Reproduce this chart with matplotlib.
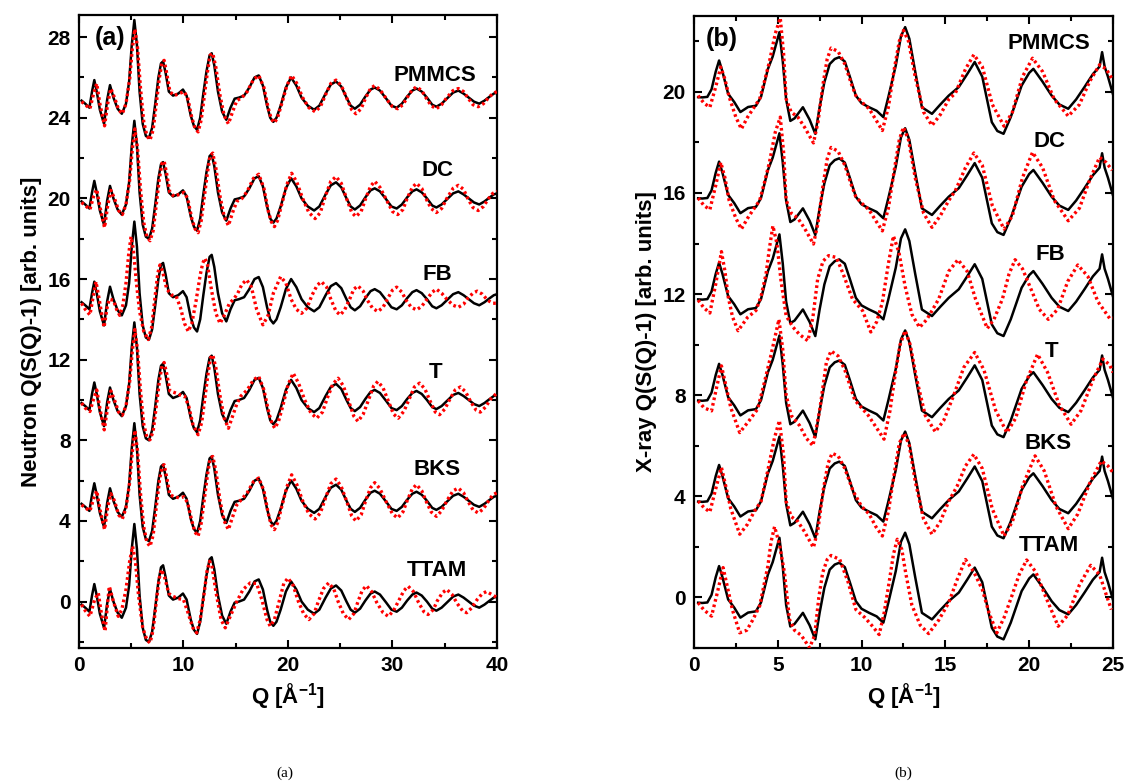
import matplotlib
matplotlib.use("Agg")
import matplotlib.pyplot as plt
from matplotlib.ticker import MultipleLocator

plt.rcParams['font.family'] = ['Liberation Sans', 'DejaVu Sans']
plt.rcParams['font.weight'] = 'bold'
plt.rcParams['mathtext.fontset'] = 'custom'
plt.rcParams['mathtext.rm'] = 'Liberation Sans:bold'
plt.rcParams['mathtext.bf'] = 'Liberation Sans:bold'

# --- DATA (curves before vertical offset) ---
models = ['PMMCS', 'DC', 'FB', 'T', 'BKS', 'TTAM']
neutron_offsets = [25, 20, 15, 10, 5, 0]
xray_offsets = [20, 16, 12, 8, 4, 0]

# neutron experiment (black, same in every row)
q_n_exp = [0.25, 0.6, 1.0, 1.25, 1.47, 1.7, 2.0, 2.4, 2.7, 2.97, 3.3, 3.7, 4.1, 4.5, 4.8, 5.05, 5.3, 5.55,
           5.8, 6.1, 6.4, 6.7, 7.0, 7.3, 7.6, 7.85, 8.05, 8.3, 8.6, 9.0, 9.5, 9.95, 10.3, 10.7, 11.0, 11.3,
           11.6, 11.9, 12.2, 12.5, 12.7, 12.95, 13.3, 13.7, 14.1, 14.5, 14.9, 15.3, 15.8, 16.3, 16.8, 17.2,
           17.6, 18.0, 18.3, 18.6, 18.9, 19.3, 19.8, 20.3, 20.8, 21.3, 21.9, 22.5, 23.0, 23.6, 24.1, 24.6,
           25.1, 25.6, 26.0, 26.4, 26.9, 27.4, 27.9, 28.3, 28.8, 29.4, 29.9, 30.4, 30.9, 31.4, 31.9, 32.3,
           32.8, 33.3, 33.8, 34.2, 34.7, 35.3, 35.8, 36.3, 36.8, 37.3, 37.8, 38.3, 38.8, 39.3, 39.7, 40.0]
n_exp = [-0.15, -0.3, -0.5, 0.3, 0.87, 0.3, -0.6, -1.3, -0.1, 0.62, 0.0, -0.55, -0.8, -0.3, 0.8, 2.6, 3.85, 2.6,
         0.3, -1.3, -1.9, -2.0, -1.5, -0.3, 1.0, 1.7, 1.8, 1.2, 0.3, 0.1, 0.2, 0.4, 0.1, -0.9, -1.4, -1.6,
         -1.0, 0.2, 1.3, 2.1, 2.2, 1.6, 0.3, -0.7, -1.1, -0.5, -0.05, 0.0, 0.1, 0.5, 1.0, 1.1,
         0.6, -0.4, -1.0, -1.2, -1.0, -0.4, 0.5, 1.0, 0.6, 0.0, -0.4, -0.6, -0.4, 0.2, 0.65, 0.8,
         0.55, 0.0, -0.4, -0.55, -0.35, 0.05, 0.4, 0.5, 0.35, -0.05, -0.4, -0.5, -0.3, 0.05, 0.35, 0.45,
         0.3, 0.0, -0.35, -0.45, -0.3, 0.0, 0.25, 0.35, 0.2, 0.0, -0.2, -0.3, -0.15, 0.05, 0.2, 0.25]

# neutron simulations (red dotted)
q_n_pmmcs = [0.25, 0.6, 1.05, 1.4, 1.7, 2.0, 2.45, 2.75, 3.05, 3.4, 3.8, 4.15, 4.5, 4.85, 5.1, 5.35, 5.6, 5.9,
             6.2, 6.5, 6.8, 7.1, 7.4, 7.7, 7.95, 8.15, 8.4, 8.7, 9.1, 9.6, 10.05, 10.4, 10.8, 11.1, 11.4, 11.7,
             12.0, 12.3, 12.55, 12.8, 13.1, 13.5, 13.9, 14.3, 14.7, 15.1, 15.6, 16.1, 16.7, 17.2, 17.7, 18.1,
             18.4, 18.7, 19.0, 19.4, 19.9, 20.35, 20.85, 21.4, 22.0, 22.6, 23.1, 23.6, 24.1, 24.6, 25.1, 25.6,
             26.1, 26.5, 27.0, 27.4, 27.9, 28.3, 28.8, 29.4, 30.0, 30.5, 31.0, 31.4, 31.9, 32.3, 32.8, 33.2,
             33.7, 34.2, 34.7, 35.2, 35.8, 36.3, 36.8, 37.2, 37.7, 38.2, 38.7, 39.2, 39.6, 40.0]
n_pmmcs = [-0.2, -0.35, -0.55, 0.2, 0.7, -0.3, -1.4, -0.3, 0.45, 0.0, -0.6, -0.8, -0.3, 0.9, 2.4, 3.4, 2.5, 0.4,
           -1.2, -1.9, -2.1, -1.6, -0.3, 1.0, 1.75, 1.85, 1.2, 0.3, 0.1, 0.2, 0.3, 0.0, -1.0, -1.5, -1.7, -1.1,
           0.1, 1.3, 2.1, 2.2, 1.5, 0.1, -0.9, -1.3, -0.7, -0.15, 0.0, 0.3, 0.9, 1.1, 0.5, -0.5,
           -1.05, -1.25, -1.0, -0.3, 0.6, 1.1, 0.7, 0.0, -0.5, -0.7, -0.45, 0.15, 0.7, 0.87, 0.6, 0.0,
           -0.6, -0.8, -0.55, -0.05, 0.45, 0.6, 0.4, -0.05, -0.45, -0.55, -0.35, 0.0, 0.4, 0.53, 0.35, 0.0,
           -0.4, -0.55, -0.35, 0.0, 0.35, 0.45, 0.3, 0.0, -0.35, -0.45, -0.3, 0.0, 0.2, 0.3]

q_n_dc = q_n_pmmcs
n_dc = [-0.2, -0.35, -0.55, 0.1, 0.45, -0.4, -1.45, -0.35, 0.4, 0.0, -0.6, -0.8, -0.3, 0.9, 2.4, 3.45, 2.5, 0.4,
        -1.2, -1.9, -2.1, -1.6, -0.3, 1.0, 1.75, 1.85, 1.2, 0.3, 0.1, 0.2, 0.3, 0.0, -1.0, -1.5, -1.7, -1.1,
        0.1, 1.3, 2.1, 2.25, 1.5, 0.1, -0.9, -1.35, -0.7, -0.15, 0.0, 0.35, 1.0, 1.2, 0.5, -0.6,
        -1.15, -1.4, -1.1, -0.3, 0.7, 1.25, 0.8, 0.0, -0.7, -1.0, -0.7, 0.15, 0.85, 1.08, 0.75, 0.0,
        -0.7, -0.9, -0.65, -0.05, 0.6, 0.85, 0.55, -0.05, -0.65, -0.8, -0.55, 0.0, 0.55, 0.75, 0.5, 0.0,
        -0.5, -0.7, -0.5, 0.0, 0.5, 0.65, 0.45, 0.0, -0.45, -0.6, -0.4, 0.0, 0.25, 0.35]

q_n_fb = [0.25, 0.6, 1.05, 1.35, 1.63, 1.9, 2.4, 2.7, 2.9, 3.3, 3.6, 3.9, 4.2, 4.5, 4.75, 4.98, 5.2, 5.5,
          5.8, 6.2, 6.63, 6.95, 7.3, 7.55, 7.75, 8.0, 8.4, 8.9, 9.3, 9.7, 10.1, 10.46, 10.8, 11.2, 11.6,
          11.85, 12.06, 12.3, 12.7, 13.1, 13.5, 13.9, 14.4, 14.8, 15.2, 15.6, 16.05, 16.5, 17.0, 17.6, 18.1,
          18.6, 19.3, 19.8, 20.3, 20.8, 21.3, 21.8, 22.3, 22.8, 23.2, 23.7, 24.1, 24.6, 25.0, 25.4, 25.9,
          26.3, 26.7, 27.2, 27.6, 28.1, 28.6, 29.1, 29.5, 30.0, 30.4, 30.9, 31.3, 31.8, 32.3, 32.8, 33.3,
          33.8, 34.2, 34.7, 35.2, 35.8, 36.3, 36.8, 37.2, 37.7, 38.1, 38.6, 39.1, 39.6, 40.0]
n_fb = [-0.2, -0.5, -0.78, 0.1, 0.87, 0.1, -1.4, -0.4, 0.0, -0.05, -0.5, -0.8, -0.3, 0.8, 2.2, 3.1, 2.5, 0.8,
        -0.6, -1.6, -2.0, -1.4, 0.2, 1.3, 1.7, 1.4, 0.5, 0.2, 0.15, -0.4, -1.2, -1.6, -1.2, -0.1, 1.2,
        1.8, 2.03, 1.7, 0.4, -0.7, -1.2, -0.8, -0.2, 0.0, 0.3, 0.75, 0.96, 0.6, -0.5, -1.27, -0.8,
        0.3, 1.12, 0.8, 0.0, -0.5, -0.7, -0.45, 0.2, 0.7, 0.87, 0.6, 0.0, -0.6, -0.78, -0.55, 0.0,
        0.5, 0.66, 0.4, -0.05, -0.45, -0.61, -0.4, 0.0, 0.45, 0.6, 0.35, -0.05, -0.4, -0.53, -0.35, 0.0,
        0.35, 0.5, 0.3, 0.0, -0.3, -0.4, -0.25, 0.05, 0.3, 0.4, 0.25, -0.05, -0.2, -0.2]

q_n_t = [0.25, 0.6, 1.05, 1.4, 1.7, 2.0, 2.42, 2.75, 3.05, 3.4, 3.8, 4.15, 4.5, 4.85, 5.1, 5.35, 5.6, 5.9,
         6.2, 6.5, 6.8, 7.1, 7.4, 7.7, 7.95, 8.15, 8.4, 8.7, 9.3, 9.7, 10.1, 10.5, 10.9, 11.4, 11.75, 12.05,
         12.35, 12.6, 12.8, 13.1, 13.5, 13.9, 14.3, 14.7, 15.1, 15.5, 16.1, 16.7, 17.2, 17.7, 18.2, 18.5,
         18.75, 19.1, 19.5, 20.0, 20.5, 21.0, 21.6, 22.2, 22.75, 23.3, 23.8, 24.3, 24.8, 25.3, 25.8, 26.3,
         26.7, 27.2, 27.7, 28.2, 28.6, 29.1, 29.6, 30.1, 30.55, 31.1, 31.6, 32.1, 32.6, 33.1, 33.6, 34.1,
         34.5, 35.0, 35.5, 36.0, 36.5, 37.0, 37.5, 38.0, 38.4, 38.9, 39.4, 40.0]
n_t = [-0.15, -0.4, -0.57, 0.05, 0.5, -0.4, -1.48, -0.35, 0.45, 0.0, -0.6, -0.75, -0.3, 0.9, 2.4, 3.5, 2.5, 0.4,
       -1.2, -1.85, -1.97, -1.55, -0.3, 0.95, 1.7, 1.86, 1.3, 0.45, 0.34, 0.25, 0.2, -0.3, -1.2, -1.72, -1.1, 0.1,
       1.3, 2.1, 2.24, 1.6, 0.2, -0.9, -1.4, -0.8, -0.2, 0.2, 0.5, 1.0, 1.17, 0.5, -0.7, -1.2,
       -1.4, -1.05, -0.3, 0.75, 1.33, 0.85, 0.0, -0.65, -0.9, -0.6, 0.15, 0.8, 1.08, 0.7, -0.05, -0.8,
       -1.06, -0.7, 0.0, 0.7, 0.92, 0.6, -0.05, -0.7, -0.9, -0.55, 0.05, 0.65, 0.84, 0.55, -0.05, -0.6,
       -0.73, -0.45, 0.05, 0.5, 0.65, 0.4, -0.1, -0.5, -0.6, -0.35, 0.05, 0.35]

q_n_bks = q_n_pmmcs
n_bks = [-0.2, -0.35, -0.5, 0.1, 0.5, -0.4, -1.43, -0.3, 0.35, 0.0, -0.7, -0.9, -0.35, 0.9, 2.4, 3.5, 2.5, 0.3,
         -1.3, -2.05, -2.26, -1.7, -0.3, 1.0, 1.7, 1.79, 1.15, 0.3, 0.2, 0.15, 0.2, -0.1, -1.0, -1.55, -1.76, -1.1,
         0.1, 1.3, 2.1, 2.2, 1.5, 0.0, -1.0, -1.43, -0.8, -0.2, 0.1, 0.4, 0.95, 1.13, 0.5, -0.6,
         -1.2, -1.43, -1.1, -0.3, 0.7, 1.29, 0.8, 0.0, -0.65, -0.9, -0.6, 0.15, 0.85, 1.08, 0.7, 0.0,
         -0.75, -1.0, -0.7, -0.05, 0.65, 0.9, 0.6, -0.05, -0.65, -0.85, -0.55, 0.0, 0.6, 0.8, 0.5, 0.0,
         -0.55, -0.77, -0.5, 0.0, 0.5, 0.63, 0.4, 0.0, -0.45, -0.6, -0.4, 0.0, 0.3, 0.4]

q_n_ttam = [0.25, 0.6, 1.05, 1.5, 1.85, 2.15, 2.5, 2.7, 2.9, 3.3, 3.76, 4.1, 4.5, 4.85, 5.13, 5.4, 5.7, 6.1,
            6.5, 6.8, 7.1, 7.4, 7.7, 7.9, 8.2, 8.6, 9.0, 9.5, 10.0, 10.4, 10.9, 11.26, 11.6, 11.95, 12.25,
            12.5, 12.75, 13.1, 13.6, 14.0, 14.5, 15.1, 15.7, 16.4, 17.0, 17.5, 18.0, 18.3, 18.7, 19.2, 19.6,
            20.0, 20.5, 21.0, 21.5, 22.0, 22.5, 22.9, 23.4, 23.9, 24.4, 24.8, 25.3, 25.8, 26.3, 26.7, 27.1,
            27.5, 28.0, 28.5, 29.1, 29.6, 30.1, 30.6, 31.1, 31.5, 32.0, 32.5, 33.0, 33.4, 33.9, 34.3, 34.8,
            35.2, 35.7, 36.2, 36.7, 37.1, 37.6, 38.1, 38.6, 39.0, 39.5, 40.0]
n_ttam = [-0.15, -0.45, -0.73, 0.1, 0.43, -0.6, -1.47, -0.3, 0.76, 0.0, -0.73, -0.4, 0.6, 2.0, 2.74, 2.0, 0.3, -1.3,
          -1.9, -2.05, -1.4, 0.0, 1.2, 1.59, 1.2, 0.4, 0.26, 0.15, 0.1, -0.5, -1.3, -1.55, -0.9, 0.3, 1.5,
          2.0, 1.7, 0.5, -0.9, -1.3, -0.7, 0.0, 0.6, 0.93, 0.9, 0.1, -0.9, -1.22, -0.9, 0.1, 0.9,
          1.17, 0.8, 0.0, -0.6, -0.89, -0.6, 0.0, 0.65, 0.93, 0.6, 0.0, -0.6, -0.89, -0.6, 0.0, 0.55,
          0.79, 0.5, -0.05, -0.55, -0.73, -0.45, 0.05, 0.55, 0.76, 0.5, -0.05, -0.5, -0.64, -0.4, 0.05, 0.45,
          0.6, 0.35, -0.1, -0.45, -0.55, -0.3, 0.1, 0.4, 0.5, 0.35, 0.2]

# x-ray experiment (black, same in every row)
q_x_exp = [0.25, 0.5, 0.8, 1.05, 1.3, 1.5, 1.7, 2.04, 2.4, 2.77, 3.0, 3.23, 3.7, 4.0, 4.41, 4.7, 4.95, 5.1,
           5.3, 5.5, 5.75, 6.0, 6.5, 6.9, 7.24, 7.5, 7.78, 8.1, 8.4, 8.67, 9.0, 9.3, 9.66, 10.0, 10.45, 10.9,
           11.3, 11.6, 12.04, 12.35, 12.6, 12.85, 13.2, 13.6, 14.2, 14.7, 15.2, 15.8, 16.3, 16.75, 17.2,
           17.77, 18.1, 18.47, 18.9, 19.55, 20.0, 20.25, 20.8, 21.34, 21.8, 22.33, 22.8, 23.3, 23.8, 24.2,
           24.35, 24.5, 24.7, 25.0]
x_exp = [-0.21, -0.22, -0.2, 0.1, 0.8, 1.24, 0.8, -0.08, -0.4, -0.8, -0.7, -0.6, -0.55, -0.2, 0.9, 1.4, 2.0, 2.36,
         1.2, -0.3, -1.15, -1.05, -0.61, -1.1, -1.66, -0.6, 0.38, 1.1, 1.3, 1.37, 1.2, 0.6, -0.15, -0.45, -0.61, -0.75,
         -1.0, -0.2, 1.04, 2.2, 2.56, 2.1, 0.8, -0.61, -0.87, -0.5, -0.15, 0.19, 0.7, 1.18, 0.6,
         -1.2, -1.55, -1.66, -1.0, 0.25, 0.75, 0.91, 0.4, -0.15, -0.5, -0.67, -0.3, 0.19, 0.7, 1.0,
         1.57, 1.0, 0.6, -0.1]

# x-ray simulations (red dotted)
q_x_pmmcs = [0.25, 0.6, 0.95, 1.3, 1.6, 1.85, 2.1, 2.5, 2.83, 3.2, 3.5, 3.92, 4.2, 4.5, 4.85, 5.15, 5.35, 5.5,
             5.8, 6.2, 6.6, 7.13, 7.4, 7.7, 7.95, 8.18, 8.6, 9.0, 9.4, 9.66, 10.0, 10.45, 10.85, 11.24, 11.6,
             11.95, 12.25, 12.5, 12.8, 13.2, 13.7, 14.2, 14.7, 15.2, 15.6, 16.2, 16.7, 17.2, 17.8, 18.5, 19.0,
             19.6, 20.2, 20.8, 21.5, 22.33, 23.0, 23.6, 24.2, 24.6, 24.95]
x_pmmcs = [-0.15, -0.45, -0.61, 0.2, 0.98, 0.5, -0.2, -1.0, -1.47, -1.0, -0.7, -0.28, 0.4, 1.18, 2.3, 2.92, 1.5, -0.28,
           -0.8, -1.0, -1.4, -2.02, -1.2, 0.3, 1.3, 1.73, 1.6, 1.1, 0.3, -0.15, -0.4, -0.67, -1.1, -1.53, -0.6,
           0.9, 2.0, 2.43, 2.0, 0.6, -0.8, -1.33, -0.9, -0.3, -0.05, 0.9, 1.47, 1.0, -0.5, -1.36, -0.8,
           0.6, 1.33, 0.8, -0.3, -0.96, -0.5, 0.4, 1.07, 0.9, 0.5]

q_x_dc = q_x_pmmcs
x_dc = [-0.2, -0.5, -0.66, 0.3, 1.21, 0.6, -0.3, -1.0, -1.43, -1.0, -0.7, -0.3, 0.4, 1.2, 2.4, 3.0, 1.6, -0.28,
        -0.8, -1.0, -1.4, -2.02, -1.2, 0.3, 1.35, 1.8, 1.65, 1.1, 0.3, -0.15, -0.4, -0.67, -1.1, -1.5, -0.6,
        0.9, 2.1, 2.6, 2.1, 0.6, -0.8, -1.36, -0.9, -0.3, 0.1, 1.0, 1.58, 1.1, -0.5, -1.43, -0.9,
        0.6, 1.61, 1.0, -0.3, -1.1, -0.6, 0.5, 1.41, 1.2, 0.9]

q_x_fb = [0.25, 0.6, 0.95, 1.3, 1.64, 1.85, 2.05, 2.3, 2.63, 2.9, 3.2, 3.7, 4.0, 4.3, 4.5, 4.71, 4.95, 5.2,
          5.5, 5.9, 6.3, 6.8, 7.1, 7.38, 7.7, 8.03, 8.5, 8.9, 9.46, 10.06, 10.55, 10.9, 11.24, 11.6, 11.9,
          12.23, 12.6, 13.0, 13.46, 13.9, 14.6, 15.2, 15.75, 16.3, 16.8, 17.5, 17.9, 18.4, 18.8, 19.16,
          19.6, 20.15, 20.6, 21.14, 21.7, 22.3, 22.9, 23.5, 24.1, 24.8, 25.0]
x_fb = [-0.24, -0.55, -0.75, 0.4, 1.68, 0.9, -0.13, -0.9, -1.45, -1.2, -0.92, -0.65, -0.1, 0.79, 1.8, 2.7, 2.0, 0.5,
        -0.86, -1.3, -1.6, -1.85, -0.9, 0.59, 1.3, 1.52, 1.45, 0.8, -0.2, -0.66, -1.5, -1.1, -0.33, 1.2, 2.3,
        1.65, 0.3, -0.8, -1.32, -1.0, -0.2, 0.9, 1.36, 0.9, -0.2, -1.36, -1.0, -0.2, 0.8, 1.36,
        1.0, 0.13, -0.6, -1.0, -0.6, 0.5, 1.15, 0.7, -0.3, -0.96, -0.95]

q_x_t = [0.25, 0.6, 1.05, 1.35, 1.64, 1.9, 2.2, 2.73, 3.3, 3.8, 4.2, 4.6, 5.07, 5.3, 5.5, 5.8, 6.3, 6.7,
         7.1, 7.5, 7.9, 8.18, 8.6, 9.0, 9.6, 10.4, 10.9, 11.34, 11.7, 12.0, 12.3, 12.6, 12.9, 13.3, 13.8,
         14.4, 14.9, 15.5, 16.1, 16.75, 17.3, 18.0, 18.67, 19.2, 19.8, 20.5, 21.1, 21.8, 22.5, 23.1, 23.8,
         24.4, 24.8, 25.0]
x_t = [-0.22, -0.5, -0.62, 0.3, 1.16, 0.4, -0.5, -1.48, -1.0, -0.55, 0.5, 1.6, 3.0, 1.8, 0.0, -0.8, -1.2, -1.7,
       -2.0, -0.6, 1.3, 1.75, 1.55, 1.0, -0.2, -0.8, -1.3, -1.74, -0.6, 0.8, 2.0, 2.55, 2.0, 0.6, -0.8,
       -1.45, -1.0, 0.0, 1.1, 1.69, 1.0, -0.6, -1.48, -0.9, 0.5, 1.62, 0.9, -0.4, -1.15, -0.6, 0.6,
       1.43, 1.2, 0.9]

q_x_bks = [0.25, 0.6, 0.95, 1.3, 1.64, 1.9, 2.2, 2.73, 3.2, 3.6, 4.0, 4.4, 4.8, 5.1, 5.35, 5.5, 5.8, 6.2,
           6.6, 7.13, 7.4, 7.7, 8.0, 8.24, 8.6, 9.0, 9.5, 10.0, 10.45, 10.85, 11.24, 11.6, 11.95, 12.25, 12.55,
           12.85, 13.2, 13.7, 14.2, 14.7, 15.2, 15.7, 16.2, 16.7, 17.2, 17.8, 18.5, 19.0, 19.6, 20.35, 20.9,
           21.6, 22.33, 22.9, 23.6, 24.3, 24.7, 25.0]
x_bks = [-0.19, -0.45, -0.62, 0.3, 1.14, 0.4, -0.5, -1.5, -1.1, -0.6, -0.2, 1.0, 2.3, 3.0, 1.6, -0.2, -0.8, -1.0,
         -1.4, -2.03, -1.3, 0.2, 1.3, 1.7, 1.6, 1.1, 0.2, -0.4, -0.7, -1.2, -1.57, -0.6, 0.9, 2.1, 2.5,
         2.0, 0.6, -0.9, -1.5, -1.0, -0.2, 0.4, 1.2, 1.66, 1.1, -0.5, -1.57, -1.0, 0.4, 1.6, 1.0,
         -0.4, -1.28, -0.7, 0.5, 1.4, 1.2, 0.94]

q_x_ttam = [0.25, 0.6, 1.05, 1.4, 1.74, 2.0, 2.3, 2.73, 3.15, 3.5, 3.92, 4.15, 4.41, 4.6, 4.81, 5.1, 5.4, 5.7,
            6.0, 6.4, 6.9, 7.2, 7.45, 7.68, 7.95, 8.18, 8.7, 9.2, 9.66, 10.2, 10.6, 11.05, 11.35, 11.64, 11.9,
            12.13, 12.4, 12.63, 13.0, 13.5, 14.0, 14.6, 15.2, 15.7, 16.2, 16.7, 17.2, 17.6, 18.07, 18.5,
            18.96, 19.4, 19.85, 20.4, 21.0, 21.73, 22.3, 23.0, 23.67, 24.2, 24.6, 24.9]
x_ttam = [-0.21, -0.5, -0.74, 0.2, 1.18, 0.4, -0.5, -1.4, -1.3, -0.9, -0.34, 0.4, 1.24, 2.2, 2.8, 2.1, 0.98, -0.87,
          -1.3, -1.5, -1.99, -1.5, 0.0, 0.98, 1.5, 1.66, 1.5, 0.6, -0.48, -0.8, -1.1, -1.47, -0.6, 0.58, 1.7,
          2.3, 1.9, 0.98, -0.3, -1.1, -1.43, -0.9, -0.21, 0.7, 1.5, 1.0, 0.32, -0.6, -1.4, -0.8,
          0.05, 0.9, 1.48, 1.0, 0.0, -1.14, -0.7, 0.5, 1.27, 0.9, 0.1, -0.48]

neutron_sim = [(q_n_pmmcs, n_pmmcs), (q_n_dc, n_dc), (q_n_fb, n_fb),
               (q_n_t, n_t), (q_n_bks, n_bks), (q_n_ttam, n_ttam)]
xray_sim = [(q_x_pmmcs, x_pmmcs), (q_x_dc, x_dc), (q_x_fb, x_fb),
            (q_x_t, x_t), (q_x_bks, x_bks), (q_x_ttam, x_ttam)]

# label positions (data coords) for each row
neutron_label_q = [34.1, 34.35, 34.3, 34.1, 34.3, 34.2]
neutron_label_y = [26.1, 21.4, 16.23, 11.35, 6.57, 1.56]
xray_label_q = [21.17, 21.23, 21.26, 21.35, 21.14, 21.2]
xray_label_y = [21.9, 18.04, 13.58, 9.72, 6.1, 2.04]


def style_axes(ax, xmaj, xmin, ymaj, ymin):
    ax.xaxis.set_major_locator(MultipleLocator(xmaj))
    ax.xaxis.set_minor_locator(MultipleLocator(xmin))
    ax.yaxis.set_major_locator(MultipleLocator(ymaj))
    ax.yaxis.set_minor_locator(MultipleLocator(ymin))
    ax.tick_params(which='both', direction='in', top=True, right=True, width=1.5,
                   labelsize=15, pad=6)
    ax.tick_params(which='major', length=6)
    ax.tick_params(which='minor', length=3.5)
    for s in ax.spines.values():
        s.set_linewidth(1.6)
    for lab in ax.get_xticklabels() + ax.get_yticklabels():
        lab.set_fontweight('bold')


fig = plt.figure(figsize=(11.28, 7.84), dpi=100)
ax1 = fig.add_axes([0.0700, 0.1735, 0.3706, 0.8074])
ax2 = fig.add_axes([0.6152, 0.1735, 0.3715, 0.8061])

# --- Panel (a): neutron ---
for off, (q, y), lq, ly, name in zip(neutron_offsets, neutron_sim, neutron_label_q, neutron_label_y, models):
    ax1.plot(q_n_exp, [v + off for v in n_exp], color='black', lw=1.8, zorder=2)
    ax1.plot(q, [v + off for v in y], color='#ff0000', lw=2.4, ls=(0, (0.8, 0.9)), zorder=3)
    ax1.text(lq, ly, name, ha='center', va='center', fontsize=16, fontweight='bold')
ax1.set_xlim(0, 40)
ax1.set_ylim(-2.3, 29.1)
style_axes(ax1, 10, 5, 4, 2)
ax1.set_xlabel('Q [Å$^{-1}$]', fontsize=16, fontweight='bold')
ax1.set_ylabel('Neutron Q(S(Q)-1) [arb. units]', fontsize=16, fontweight='bold')
ax1.text(3.0, 27.95, '(a)', ha='center', va='center', fontsize=18, fontweight='bold')

# --- Panel (b): x-ray ---
for off, (q, y), lq, ly, name in zip(xray_offsets, xray_sim, xray_label_q, xray_label_y, models):
    ax2.plot(q_x_exp, [v + off for v in x_exp], color='black', lw=1.8, zorder=2)
    ax2.plot(q, [v + off for v in y], color='#ff0000', lw=2.4, ls=(0, (0.8, 0.9)), zorder=3)
    ax2.text(lq, ly, name, ha='center', va='center', fontsize=16, fontweight='bold')
ax2.set_xlim(0, 25)
ax2.set_ylim(-2, 23)
style_axes(ax2, 5, 2.5, 4, 2)
ax2.set_xlabel('Q [Å$^{-1}$]', fontsize=16, fontweight='bold')
ax2.set_ylabel('X-ray Q(S(Q)-1) [arb. units]', fontsize=16, fontweight='bold')
ax2.text(1.66, 22.1, '(b)', ha='center', va='center', fontsize=18, fontweight='bold')

# sub-captions
fig.text(0.2527, 0.014, '(a)', ha='center', va='center', fontsize=11,
         family='Liberation Serif', fontweight='normal')
fig.text(0.8005, 0.014, '(b)', ha='center', va='center', fontsize=11,
         family='Liberation Serif', fontweight='normal')

fig.savefig('out.png', dpi=100)
